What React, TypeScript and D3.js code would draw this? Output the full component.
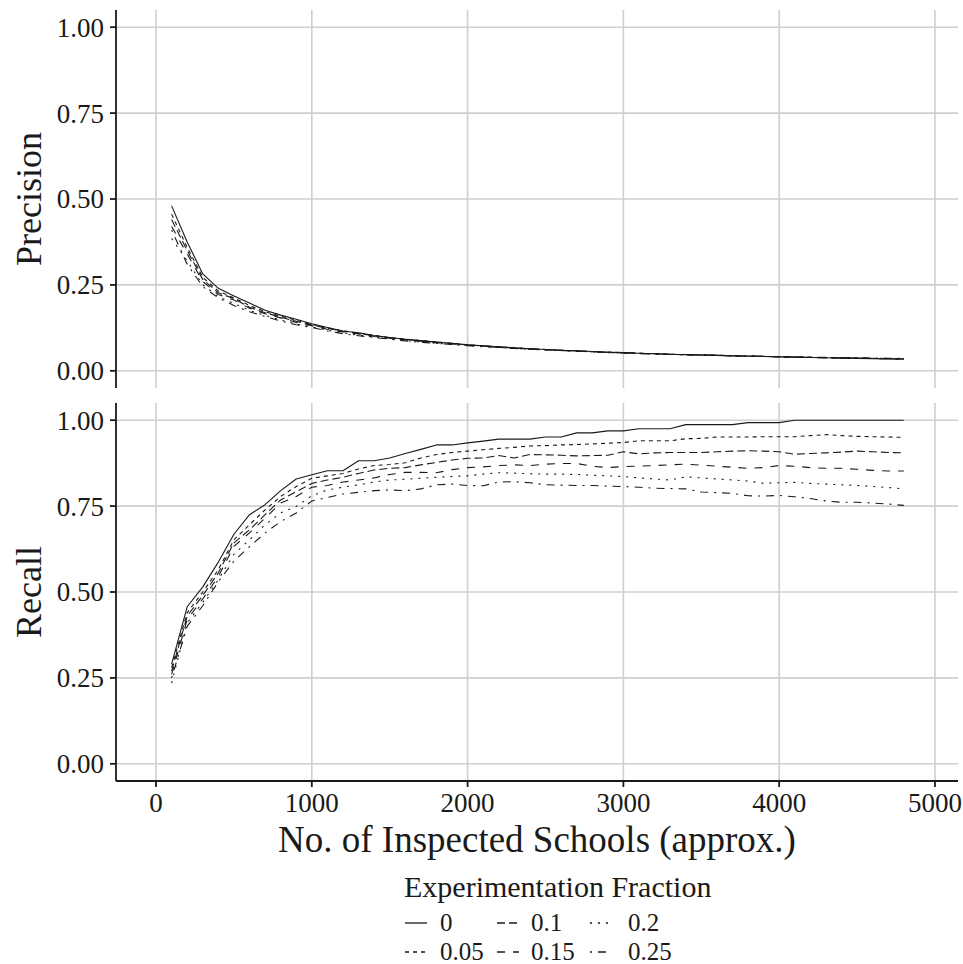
import React from "react";
import * as d3 from "d3";

const inspected = [100, 200, 300, 400, 500, 600, 700, 800, 900, 1000, 1100, 1200, 1300, 1400, 1500, 1600, 1700, 1800, 1900, 2000, 2100, 2200, 2300, 2400, 2500, 2600, 2700, 2800, 2900, 3000, 3100, 3200, 3300, 3400, 3500, 3600, 3700, 3800, 3900, 4000, 4100, 4200, 4300, 4400, 4500, 4600, 4700, 4800];

const fractions = ["0", "0.05", "0.1", "0.15", "0.2", "0.25"];

const recall0 = [0.29, 0.457, 0.515, 0.587, 0.668, 0.725, 0.754, 0.795, 0.829, 0.841, 0.853, 0.853, 0.882, 0.882, 0.890, 0.903, 0.915, 0.928, 0.928, 0.934, 0.939, 0.945, 0.945, 0.945, 0.951, 0.951, 0.963, 0.963, 0.969, 0.969, 0.975, 0.975, 0.975, 0.987, 0.987, 0.987, 0.987, 0.993, 0.993, 0.993, 1, 1, 1, 1, 1, 1, 1, 1];
const recall05 = [0.28, 0.44, 0.50, 0.565, 0.652, 0.696, 0.739, 0.778, 0.807, 0.831, 0.838, 0.845, 0.858, 0.868, 0.871, 0.876, 0.89, 0.90, 0.906, 0.91, 0.914, 0.918, 0.921, 0.925, 0.926, 0.928, 0.929, 0.931, 0.933, 0.935, 0.94, 0.94, 0.94, 0.946, 0.947, 0.951, 0.951, 0.951, 0.952, 0.952, 0.952, 0.955, 0.958, 0.955, 0.953, 0.952, 0.951, 0.950];
const recall10 = [0.27, 0.43, 0.49, 0.556, 0.643, 0.681, 0.725, 0.768, 0.792, 0.816, 0.826, 0.834, 0.845, 0.855, 0.86, 0.862, 0.87, 0.877, 0.884, 0.889, 0.89, 0.897, 0.89, 0.90, 0.899, 0.898, 0.896, 0.897, 0.898, 0.908, 0.902, 0.905, 0.906, 0.906, 0.906, 0.908, 0.910, 0.911, 0.910, 0.908, 0.901, 0.903, 0.905, 0.907, 0.910, 0.908, 0.906, 0.905];
const recall15 = [0.26, 0.42, 0.48, 0.545, 0.633, 0.672, 0.715, 0.759, 0.778, 0.805, 0.81, 0.82, 0.826, 0.832, 0.842, 0.848, 0.848, 0.847, 0.856, 0.862, 0.864, 0.868, 0.87, 0.868, 0.872, 0.874, 0.874, 0.866, 0.862, 0.865, 0.866, 0.868, 0.870, 0.872, 0.869, 0.866, 0.863, 0.860, 0.862, 0.868, 0.866, 0.862, 0.860, 0.860, 0.857, 0.854, 0.852, 0.852];
const recall20 = [0.235, 0.41, 0.47, 0.536, 0.61, 0.652, 0.696, 0.73, 0.749, 0.78, 0.797, 0.805, 0.812, 0.82, 0.826, 0.828, 0.831, 0.834, 0.836, 0.838, 0.843, 0.847, 0.846, 0.844, 0.843, 0.843, 0.842, 0.840, 0.838, 0.836, 0.832, 0.829, 0.826, 0.835, 0.832, 0.829, 0.826, 0.823, 0.816, 0.818, 0.819, 0.816, 0.814, 0.812, 0.810, 0.807, 0.804, 0.800];
const recall25 = [0.25, 0.40, 0.46, 0.53, 0.59, 0.632, 0.672, 0.705, 0.73, 0.765, 0.775, 0.785, 0.79, 0.795, 0.797, 0.795, 0.80, 0.812, 0.814, 0.81, 0.809, 0.82, 0.821, 0.818, 0.812, 0.811, 0.81, 0.81, 0.808, 0.807, 0.805, 0.802, 0.801, 0.800, 0.791, 0.789, 0.787, 0.780, 0.779, 0.781, 0.777, 0.772, 0.765, 0.761, 0.761, 0.759, 0.756, 0.752];

const precision0 = [0.48, 0.375, 0.282, 0.24, 0.218, 0.197, 0.176, 0.162, 0.150, 0.137, 0.126, 0.116, 0.111, 0.103, 0.097, 0.092, 0.088, 0.084, 0.080, 0.076, 0.073, 0.070, 0.067, 0.064, 0.062, 0.060, 0.058, 0.056, 0.054, 0.053, 0.051, 0.050, 0.048, 0.047, 0.046, 0.045, 0.0435, 0.0426, 0.0415, 0.0405, 0.0398, 0.0388, 0.0379, 0.037, 0.0362, 0.0354, 0.0347, 0.034];
const precision05 = [0.456, 0.359, 0.272, 0.232, 0.212, 0.190, 0.172, 0.159, 0.147, 0.135, 0.125, 0.116, 0.110, 0.103, 0.097, 0.092, 0.088, 0.084, 0.080, 0.076, 0.073, 0.070, 0.067, 0.064, 0.062, 0.060, 0.058, 0.056, 0.054, 0.053, 0.051, 0.050, 0.048, 0.047, 0.046, 0.045, 0.044, 0.043, 0.042, 0.041, 0.040, 0.039, 0.038, 0.037, 0.0365, 0.0358, 0.035, 0.0345];
const precision10 = [0.44, 0.35, 0.266, 0.227, 0.210, 0.185, 0.169, 0.156, 0.144, 0.133, 0.124, 0.115, 0.109, 0.102, 0.096, 0.091, 0.087, 0.083, 0.079, 0.075, 0.072, 0.069, 0.066, 0.064, 0.062, 0.060, 0.058, 0.056, 0.054, 0.053, 0.051, 0.050, 0.048, 0.047, 0.046, 0.045, 0.044, 0.043, 0.042, 0.041, 0.040, 0.039, 0.038, 0.0375, 0.0368, 0.036, 0.0353, 0.0347];
const precision15 = [0.42, 0.34, 0.26, 0.222, 0.206, 0.182, 0.166, 0.154, 0.141, 0.131, 0.121, 0.113, 0.107, 0.100, 0.095, 0.090, 0.086, 0.082, 0.078, 0.075, 0.072, 0.069, 0.066, 0.063, 0.061, 0.059, 0.057, 0.056, 0.054, 0.052, 0.051, 0.049, 0.048, 0.047, 0.046, 0.045, 0.044, 0.043, 0.042, 0.041, 0.040, 0.039, 0.038, 0.0378, 0.037, 0.0363, 0.0356, 0.035];
const precision20 = [0.385, 0.32, 0.25, 0.216, 0.196, 0.176, 0.161, 0.148, 0.136, 0.128, 0.118, 0.110, 0.104, 0.098, 0.093, 0.088, 0.084, 0.080, 0.077, 0.074, 0.071, 0.068, 0.065, 0.063, 0.061, 0.059, 0.057, 0.055, 0.053, 0.052, 0.050, 0.049, 0.048, 0.047, 0.046, 0.045, 0.044, 0.043, 0.042, 0.041, 0.040, 0.039, 0.0385, 0.038, 0.0373, 0.0366, 0.036, 0.0355];
const precision25 = [0.41, 0.31, 0.245, 0.212, 0.190, 0.172, 0.158, 0.145, 0.134, 0.126, 0.116, 0.108, 0.102, 0.097, 0.092, 0.087, 0.083, 0.080, 0.077, 0.073, 0.070, 0.068, 0.065, 0.063, 0.061, 0.059, 0.057, 0.055, 0.053, 0.052, 0.050, 0.049, 0.048, 0.047, 0.046, 0.045, 0.044, 0.043, 0.042, 0.041, 0.040, 0.040, 0.039, 0.0385, 0.038, 0.0373, 0.0366, 0.036];

const recallSeries = [recall0, recall05, recall10, recall15, recall20, recall25];
const precisionSeries = [precision0, precision05, precision10, precision15, precision20, precision25];

const xTicks = [0, 1000, 2000, 3000, 4000, 5000];
const yTicks = [0, 0.25, 0.5, 0.75, 1];
const yTickLabels = ["0.00", "0.25", "0.50", "0.75", "1.00"];

// ggplot linetypes: solid, 22, 42, 44, 13, 1343
const dashArrays = ["", "4,4", "8,4", "8,8", "2,6", "2,6,8,6"];

const FONT = "'Liberation Serif', 'Times New Roman', serif";
const INK = "#1a1a1a";
const GRID = "#cfcfcf";

export default function App() {
  const W = 963, H = 964;
  const left = 116, right = 958;
  const x = d3.scaleLinear().domain([-257, 5148]).range([left, right]);
  const panels = [
    { title: "Precision", series: precisionSeries, y: d3.scaleLinear().domain([-0.05, 1.05]).range([388, 10]), top: 10, bottom: 388, xAxis: false },
    { title: "Recall", series: recallSeries, y: d3.scaleLinear().domain([-0.05, 1.05]).range([781, 403]), top: 403, bottom: 781, xAxis: true },
  ];

  const legendCols = [
    { keyX: 405, labelX: 440 },
    { keyX: 497, labelX: 531 },
    { keyX: 590, labelX: 628 },
  ];
  const legendRows = [923, 952];

  return (
    <svg width={W} height={H} style={{ position: "absolute", left: 0, top: 0, background: "#fff" }} fontFamily={FONT}>
      <rect x={0} y={0} width={W} height={H} fill="#fff" />
      {panels.map((p, pi) => {
        const line = d3.line<number>().x((_, i) => x(inspected[i])).y((d) => p.y(d));
        return (
          <g key={pi}>
            {xTicks.map((t) => (
              <line key={"vx" + t} x1={x(t)} x2={x(t)} y1={p.top} y2={p.bottom} stroke={GRID} strokeWidth={1.6} />
            ))}
            {yTicks.map((t) => (
              <line key={"hy" + t} x1={left} x2={right} y1={p.y(t)} y2={p.y(t)} stroke={GRID} strokeWidth={1.6} />
            ))}
            {p.series.map((s, si) => (
              <path key={si} d={line(s) || ""} fill="none" stroke={INK} strokeWidth={1.1}
                strokeDasharray={dashArrays[si] || undefined} strokeLinejoin="round" />
            ))}
            <line x1={left} x2={left} y1={p.top} y2={p.bottom} stroke={INK} strokeWidth={1.8} />
            {yTicks.map((t, i) => (
              <g key={"yt" + t}>
                <line x1={left - 6} x2={left} y1={p.y(t)} y2={p.y(t)} stroke={INK} strokeWidth={1.8} />
                <text x={left - 12} y={p.y(t)} dy="0.35em" textAnchor="end" fontSize={27} fill={INK}>{yTickLabels[i]}</text>
              </g>
            ))}
            <text transform={`translate(28, ${(p.top + p.bottom) / 2}) rotate(-90)`} textAnchor="middle" dy="0.35em" fontSize={36} fill={INK}>{p.title}</text>
            {p.xAxis && (
              <g>
                <line x1={left} x2={right} y1={p.bottom} y2={p.bottom} stroke={INK} strokeWidth={1.8} />
                {xTicks.map((t) => (
                  <g key={"xt" + t}>
                    <line x1={x(t)} x2={x(t)} y1={p.bottom} y2={p.bottom + 6} stroke={INK} strokeWidth={1.8} />
                    <text x={x(t)} y={p.bottom + 31} textAnchor="middle" fontSize={27} fill={INK}>{t}</text>
                  </g>
                ))}
              </g>
            )}
          </g>
        );
      })}
      <text x={(left + right) / 2} y={852} textAnchor="middle" fontSize={37} fill={INK}>No. of Inspected Schools (approx.)</text>
      <text x={404} y={897} fontSize={30} fill={INK}>Experimentation Fraction</text>
      {fractions.map((f, i) => {
        const col = legendCols[Math.floor(i / 2)];
        const row = legendRows[i % 2];
        return (
          <g key={f}>
            <line x1={col.keyX} x2={col.keyX + 22} y1={row} y2={row} stroke={INK} strokeWidth={1.3} strokeDasharray={dashArrays[i] || undefined} />
            <text x={col.labelX} y={row} dy="0.33em" fontSize={25} fill={INK}>{f}</text>
          </g>
        );
      })}
    </svg>
  );
}
